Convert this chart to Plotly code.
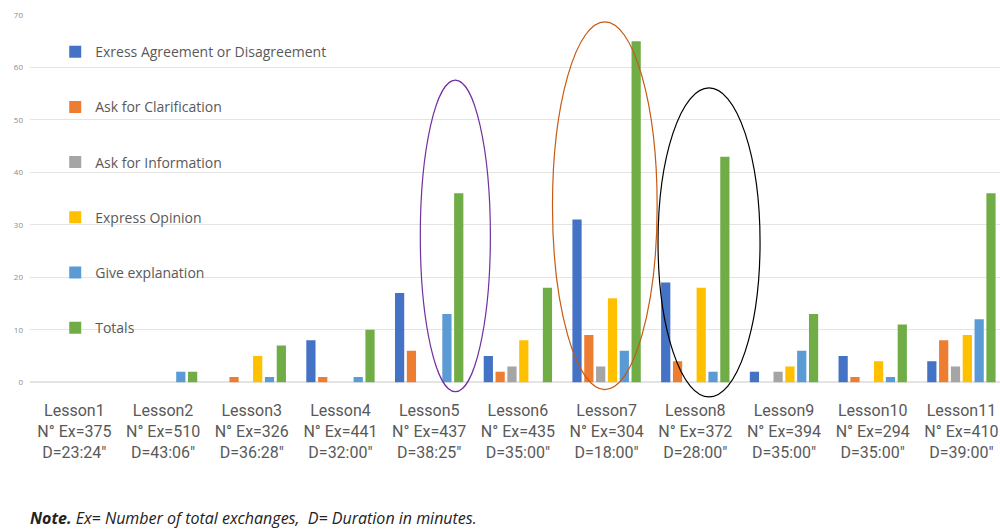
import plotly.graph_objects as go

lessons = ["Lesson1", "Lesson2", "Lesson3", "Lesson4", "Lesson5", "Lesson6",
           "Lesson7", "Lesson8", "Lesson9", "Lesson10", "Lesson11"]
exchanges = [375, 510, 326, 441, 437, 435, 304, 372, 394, 294, 410]
durations = ["23:24", "43:06", "36:28", "32:00", "38:25", "35:00",
             "18:00", "28:00", "35:00", "35:00", "39:00"]

agreement = [0, 0, 0, 8, 17, 5, 31, 19, 2, 5, 4]
clarification = [0, 0, 1, 1, 6, 2, 9, 4, 0, 1, 8]
information = [0, 0, 0, 0, 0, 3, 3, 0, 2, 0, 3]
opinion = [0, 0, 5, 0, 0, 8, 16, 18, 3, 4, 9]
explanation = [0, 2, 1, 1, 13, 0, 6, 2, 6, 1, 12]
totals = [0, 2, 7, 10, 36, 18, 65, 43, 13, 11, 36]

series = [
    ("Exress Agreement or Disagreement", agreement, "#4472C4"),
    ("Ask for Clarification", clarification, "#ED7D31"),
    ("Ask for Information", information, "#A5A5A5"),
    ("Express Opinion", opinion, "#FFC000"),
    ("Give explanation", explanation, "#5B9BD5"),
    ("Totals", totals, "#70AD47"),
]

tick_text = [f'{l}<br>N° Ex={e}<br>D={d}"' for l, e, d in zip(lessons, exchanges, durations)]

fig = go.Figure()
for i, (name, vals, color) in enumerate(series):
    fig.add_trace(
        go.Bar(
            x=lessons,
            y=vals,
            name=name,
            marker=dict(color=color, line=dict(width=0)),
            legendgroup=f"g{i}",
        )
    )

# highlighted lessons
ellipses = [
    (3.9, 4.69, -1.8, 57.6, "#7030A0"),
    (5.39, 6.57, -1.4, 68.7, "#C55A11"),
    (6.58, 7.73, -2.8, 56.1, "#000000"),
]
for x0, x1, y0, y1, color in ellipses:
    fig.add_shape(
        type="circle", xref="x", yref="y",
        x0=x0, x1=x1, y0=y0, y1=y1,
        line=dict(color=color, width=1.2),
    )

fig.add_annotation(
    xref="paper", yref="paper", x=-0.002, y=-0.31,
    xanchor="left", yanchor="middle", showarrow=False,
    text="<b><i>Note.</i></b><i> Ex= Number of total exchanges,  D= Duration in minutes.</i>",
    font=dict(family="Open Sans", size=16, color="#222222"),
)

fig.update_layout(
    width=1000,
    height=531,
    margin=dict(l=30, r=0, t=15, b=132),
    paper_bgcolor="white",
    plot_bgcolor="white",
    barmode="group",
    bargap=0.2,
    bargroupgap=0.22,
    showlegend=True,
    legend=dict(
        x=0.026, y=0.945, xanchor="left", yanchor="top",
        font=dict(family="Open Sans", size=14, color="#595959"),
        tracegroupgap=34,
        itemwidth=30,
        bgcolor="rgba(0,0,0,0)",
    ),
    xaxis=dict(
        range=[-0.5, 10.435],
        tickmode="array",
        tickvals=lessons,
        ticktext=tick_text,
        tickfont=dict(family="Roboto", size=16, color="#595959"),
        showgrid=False,
        showline=False,
        ticks="",
    ),
    yaxis=dict(
        range=[-3.2, 70],
        tickvals=[0, 10, 20, 30, 40, 50, 60, 70],
        tickfont=dict(family="Open Sans", size=8, color="#8c8c8c"),
        gridcolor="#e4e4e4",
        zerolinecolor="#e4e4e4",
        showline=False,
        ticklabelstandoff=6,
    ),
)

fig.write_html(
    "out.html",
    config={"displayModeBar": False},
    post_script="document.body.style.margin='0';document.body.style.overflow='hidden';",
)
